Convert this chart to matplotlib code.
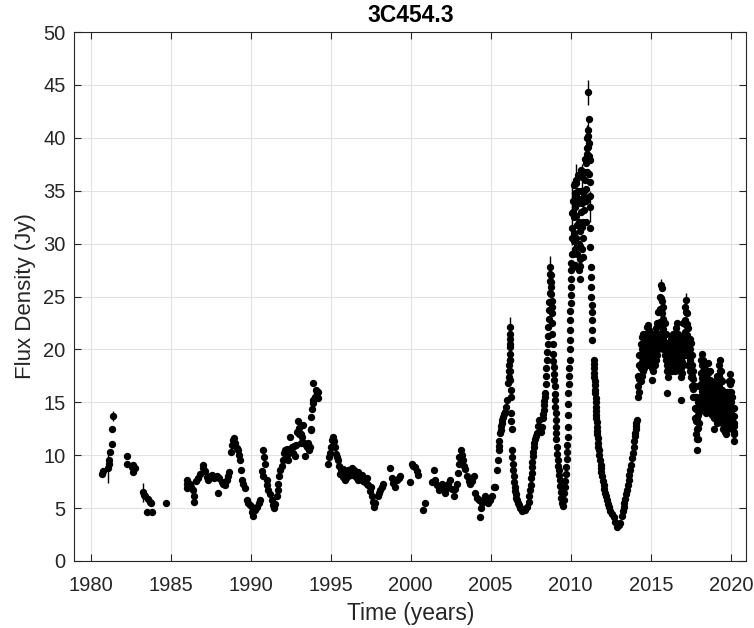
import numpy as np
import matplotlib.pyplot as plt

plt.rcParams['font.family'] = ['Liberation Sans', 'DejaVu Sans']

# --- данные (год, поток в Ян) ---
t_80s = [1980.70, 1980.75, 1981.11, 1981.15, 1981.18, 1981.22, 1981.32, 1981.32, 1981.43,
         1982.26, 1982.30, 1982.60, 1982.68, 1982.68, 1982.76,
         1983.30, 1983.35, 1983.41, 1983.51, 1983.61, 1983.72, 1983.78, 1983.82, 1984.70,
         1986.01, 1986.01, 1986.05, 1986.22, 1986.30, 1986.43, 1986.49, 1986.49, 1986.60,
         1986.74, 1986.85, 1987.05, 1987.05, 1987.15, 1987.30, 1987.36, 1987.45, 1987.57,
         1987.70, 1987.89, 1987.95, 1988.05, 1988.20, 1988.30, 1988.41, 1988.51, 1988.58,
         1988.66, 1988.75, 1988.82, 1988.90, 1988.99, 1989.05, 1989.14, 1989.24, 1989.30,
         1989.34, 1989.40, 1989.45, 1989.55, 1989.66, 1989.80, 1989.86, 1989.95, 1990.07,
         1990.10, 1990.18, 1990.25, 1990.39, 1990.50, 1990.59]
f_80s = [8.2, 8.5, 8.8, 9.2, 9.5, 10.3, 11.1, 12.5, 13.7,
         9.9, 9.2, 8.9, 9.1, 8.4, 8.8,
         6.5, 6.2, 6.1, 4.6, 5.9, 5.6, 5.5, 4.6, 5.5,
         7.7, 6.9, 7.3, 7.3, 7.0, 6.7, 6.1, 5.6, 7.6,
         7.8, 8.2, 8.8, 9.1, 8.5, 7.9, 7.7, 8.0, 8.1,
         7.8, 8.0, 6.4, 7.8, 7.5, 7.3, 7.2, 7.7, 8.0,
         8.4, 10.3, 11.0, 11.4, 11.6, 11.2, 10.7, 10.5, 10.0,
         9.5, 8.6, 7.7, 7.3, 6.9, 5.8, 5.5, 5.3, 5.1,
         4.6, 4.3, 4.8, 5.1, 5.5, 5.8]

t_90s = [1990.70, 1990.80, 1990.85, 1990.91, 1990.80, 1991.01, 1991.05, 1991.11, 1991.20,
         1991.32, 1991.40, 1991.49, 1991.55, 1991.64, 1991.70, 1991.74, 1991.80, 1991.84,
         1991.95, 1992.05, 1992.16, 1992.25, 1992.36, 1992.40, 1992.47, 1992.57, 1992.65,
         1992.78, 1992.85, 1992.92, 1992.99, 1993.05, 1993.12, 1993.20, 1993.30, 1993.35,
         1993.41, 1993.51, 1993.60, 1993.72, 1993.76, 1993.78, 1993.80, 1993.82, 1993.88,
         1993.93, 1993.93, 1994.00, 1994.08, 1994.14, 1994.24, 1994.20,
         1994.86, 1994.90, 1994.97, 1995.05, 1995.10, 1995.18, 1995.22, 1995.28, 1995.35,
         1995.42, 1995.49, 1995.55, 1995.62, 1995.70, 1995.80, 1995.91, 1996.00, 1996.11,
         1996.20, 1996.32, 1996.42, 1996.53, 1996.62, 1996.74, 1996.85, 1996.95, 1997.05,
         1997.16, 1997.25, 1997.36, 1997.45, 1997.57, 1997.65, 1997.72, 1997.80, 1997.93,
         1998.00, 1998.09, 1998.18, 1998.26, 1998.72, 1998.82, 1998.90, 1999.03, 1999.14,
         1999.25, 1999.34, 1999.97, 2000.07, 2000.15, 2000.28, 2000.40, 2000.49, 2000.80,
         2000.91, 2001.32, 2001.43, 2001.53, 2001.62, 2001.74, 2001.85, 2001.95, 2002.05,
         2002.16, 2002.25, 2002.36, 2002.47, 2002.58, 2002.68, 2002.80, 2002.89, 2002.97,
         2003.05, 2003.10, 2003.16, 2003.22, 2003.30, 2003.40, 2003.51, 2003.62, 2003.72,
         2003.82, 2003.93, 2004.03, 2004.12, 2004.24, 2004.34, 2004.40, 2004.45, 2004.55,
         2004.66, 2004.76, 2004.86, 2004.95, 2005.07, 2005.18, 2005.28,
         1992.10, 1992.30, 1992.70, 1993.00, 1993.15, 1993.45, 1993.65, 1995.60, 1995.75,
         1996.05, 1996.25, 1996.48, 1996.68, 1997.00, 1997.30, 1997.50, 2003.00, 2003.35]
f_90s = [8.5, 10.5, 9.8, 9.2, 8.0, 7.7, 7.2, 6.7, 6.3,
         5.8, 5.3, 5.0, 5.4, 6.1, 6.7, 7.3, 8.0, 8.6,
         9.0, 9.5, 10.5, 10.0, 9.5, 10.5, 11.7, 10.8, 10.2,
         9.9, 11.0, 12.2, 13.2, 12.6, 12.0, 11.7, 12.9, 11.2,
         9.9, 10.8, 11.2, 10.8, 12.4, 12.5, 13.6, 14.4, 14.9,
         15.2, 16.8, 15.5, 16.2, 15.9, 16.0, 15.4,
         9.2, 9.8, 10.2, 10.8, 11.4, 11.7, 11.3, 10.8, 10.1,
         9.8, 9.5, 9.0, 8.6, 8.3, 7.9, 7.7, 8.2, 8.6,
         8.5, 8.8, 8.3, 8.0, 7.8, 7.7, 7.9, 8.1, 7.8,
         7.5, 7.3, 7.2, 6.6, 6.1, 5.6, 5.1, 5.5, 6.1,
         6.4, 6.7, 7.0, 7.3, 8.8, 7.8, 7.4, 7.0, 7.7,
         7.8, 8.0, 7.5, 9.2, 9.0, 8.9, 8.5, 8.1, 4.8,
         5.5, 7.5, 8.6, 7.7, 7.2, 6.7, 7.0, 7.3, 6.8,
         6.4, 6.9, 7.3, 7.7, 6.8, 6.1, 6.8, 7.3, 8.3,
         9.2, 9.8, 10.5, 10.0, 9.5, 8.7, 8.0, 7.6, 7.3,
         7.6, 8.0, 6.4, 6.0, 5.8, 4.2, 5.0, 5.5, 5.8,
         6.1, 5.8, 5.5, 5.8, 6.1, 7.0, 7.0,
         10.2, 10.6, 10.9, 12.0, 11.2, 11.0, 10.5, 8.2, 8.7,
         7.9, 8.1, 8.6, 8.4, 7.6, 7.8, 7.0, 9.8, 9.0]

t_flares = [2005.39, 2005.45, 2005.49, 2005.55, 2005.59, 2005.65, 2005.70, 2005.75, 2005.82,
            2005.91, 2005.98, 2006.05, 2006.11, 2006.14, 2006.18, 2006.18, 2006.18, 2006.18,
            2006.20, 2006.22, 2006.22, 2006.24, 2006.26, 2006.32, 2006.33, 2006.38, 2006.43,
            2006.50, 2006.57, 2006.64, 2006.75, 2006.85, 2006.95, 2007.05, 2007.15, 2007.26,
            2007.38, 2007.47, 2007.52, 2007.57, 2007.62, 2007.68, 2007.78, 2007.89, 2007.94,
            2007.99, 2008.05, 2008.12, 2008.20, 2008.25, 2008.30, 2008.36, 2008.41, 2008.46,
            2008.51, 2008.56, 2008.61, 2008.65, 2008.68, 2008.70, 2008.72, 2008.75, 2008.78,
            2008.80, 2008.82, 2008.86, 2008.89, 2008.93, 2008.97, 2009.00, 2009.03, 2009.06,
            2009.09, 2009.13, 2009.18, 2009.24, 2009.30, 2009.38, 2009.45, 2009.52, 2009.59,
            2009.66, 2009.72, 2009.76, 2009.80, 2009.83, 2009.86, 2009.90, 2009.93, 2009.95,
            2009.97, 2009.99, 2010.01, 2010.03, 2010.05, 2010.07, 2010.07,
            2010.10, 2010.12, 2010.14, 2010.16, 2010.18, 2010.20, 2010.22, 2010.24, 2010.26,
            2010.28, 2010.30, 2010.32, 2010.34, 2010.36, 2010.38, 2010.40, 2010.43, 2010.45,
            2010.47, 2010.49, 2010.51, 2010.53, 2010.55, 2010.55, 2010.58, 2010.60, 2010.62,
            2010.64, 2010.67, 2010.70, 2010.70, 2010.72, 2010.74, 2010.77, 2010.80, 2010.82,
            2010.85, 2010.88, 2010.91, 2010.93, 2010.95, 2010.97, 2010.99, 2011.01, 2011.03,
            2011.05, 2011.07, 2011.09, 2011.11, 2011.13, 2011.15, 2011.18, 2011.18, 2011.20,
            2011.22, 2011.22, 2011.22, 2011.25, 2011.28, 2011.30, 2011.32, 2011.32,
            2011.43, 2011.45, 2011.48, 2011.50, 2011.53, 2011.56, 2011.58, 2011.61, 2011.64,
            2011.67, 2011.70, 2011.74, 2011.84, 2011.90, 2011.95, 2012.05, 2012.16, 2012.25,
            2012.36, 2012.48, 2012.58, 2012.68, 2012.78, 2012.89, 2013.00, 2013.09, 2013.20,
            2013.30, 2013.40, 2013.51, 2013.62, 2013.72, 2013.82, 2013.93, 2014.00, 2014.05,
            2014.09, 2014.12,
            2010.12, 2010.18, 2010.26, 2010.34, 2010.42, 2010.50, 2010.60, 2010.68, 2010.78,
            2010.86, 2010.95, 2011.03, 2011.12, 2011.16]
f_flares = [8.6, 9.5, 10.5, 11.3, 12.1, 12.8, 13.3, 13.6, 13.9,
            14.1, 14.6, 15.2, 16.8, 18.0, 19.0, 20.2, 21.5, 22.1,
            20.5, 19.0, 17.1, 16.2, 15.5, 12.5, 10.5, 9.2, 8.0,
            7.0, 6.3, 5.8, 5.3, 5.0, 4.7, 4.9, 4.8, 5.1,
            5.6, 6.7, 7.8, 8.9, 9.9, 10.8, 11.5, 12.1, 12.8,
            13.3, 12.6, 12.2, 12.7, 13.5, 14.3, 15.1, 15.9, 17.5,
            19.0, 20.5, 22.1, 23.7, 25.3, 26.5, 27.8, 27.0, 25.9,
            24.6, 23.4, 21.5, 19.6, 18.3, 17.1, 15.8, 14.6, 13.3,
            12.1, 10.8, 9.5, 8.6, 7.7, 6.5, 5.5, 5.2, 6.4,
            7.6, 8.9, 10.3, 11.7, 13.8, 15.9, 17.5, 19.0, 20.9,
            22.8, 24.4, 25.9, 27.5, 29.0, 30.5, 32.9,
            31.5, 29.0, 27.8, 34.0, 35.5, 32.5, 31.0, 29.5, 28.0,
            33.5, 36.0, 34.5, 35.7, 30.5, 29.0, 31.8, 33.8, 36.5,
            35.0, 32.0, 30.0, 27.5, 26.7, 28.5, 29.8, 31.2, 33.0,
            35.0, 37.0, 36.3, 31.6, 29.5, 28.7, 32.0, 33.2, 35.0,
            36.8, 38.0, 36.0, 34.0, 32.0, 37.6, 39.0, 40.0, 38.5,
            39.1, 40.2, 44.3, 40.7, 39.5, 38.3, 37.9, 35.8, 34.5,
            33.5, 31.5, 29.7, 27.8, 25.9, 24.2, 22.8, 20.9,
            19.0, 18.2, 17.4, 16.6, 15.9, 15.0, 14.2, 13.5, 12.7,
            12.0, 11.2, 10.5, 9.5, 8.8, 8.0, 7.2, 6.4, 5.8,
            5.1, 4.7, 4.4, 4.2, 3.7, 3.2, 3.4, 3.6, 4.3,
            5.1, 5.9, 6.7, 7.7, 8.6, 9.7, 10.8, 11.8, 12.5,
            13.0, 13.3,
            33.0, 30.2, 34.8, 32.6, 30.0, 34.2, 27.9, 33.8, 30.5,
            34.5, 35.2, 36.8, 41.8, 36.6]

# дополнительные точки на крутых склонах вспышек
t_flank = [2005.52, 2005.62, 2005.68, 2006.12, 2006.16, 2006.19, 2006.21, 2006.23, 2006.28,
           2006.30, 2006.35, 2006.40, 2006.46, 2006.54, 2006.60, 2006.70,
           2007.42, 2007.50, 2007.55, 2007.60, 2007.65, 2007.73, 2007.84,
           2008.28, 2008.33, 2008.39, 2008.44, 2008.48, 2008.54, 2008.58, 2008.63, 2008.67,
           2008.71, 2008.76, 2008.79, 2008.81, 2008.84, 2008.88, 2008.91, 2008.95, 2008.99,
           2009.02, 2009.05, 2009.08, 2009.11, 2009.15, 2009.21, 2009.27, 2009.34, 2009.42,
           2009.56, 2009.63, 2009.69, 2009.74, 2009.78, 2009.82, 2009.85, 2009.88, 2009.92,
           2009.94, 2009.96, 2009.98, 2010.00, 2010.02, 2010.04,
           2011.27, 2011.29, 2011.31, 2011.33,
           2011.44, 2011.47, 2011.49, 2011.52, 2011.55, 2011.57, 2011.60, 2011.62, 2011.66,
           2011.69, 2011.72, 2011.78, 2011.87, 2011.92, 2012.00, 2012.10, 2012.20, 2012.30,
           2013.25, 2013.35, 2013.45, 2013.56, 2013.67, 2013.77, 2013.88, 2013.97, 2014.03,
           2014.07]
f_flank = [10.9, 12.4, 13.0, 17.4, 18.5, 19.6, 21.0, 18.0, 14.0,
           13.2, 9.8, 8.6, 7.5, 6.6, 6.0, 5.5,
           6.1, 7.2, 8.3, 9.4, 10.3, 11.2, 11.8,
           13.9, 14.7, 15.5, 16.7, 18.2, 19.8, 21.3, 22.9, 24.5,
           27.1, 26.4, 25.2, 24.0, 22.5, 20.5, 18.9, 17.7, 16.5,
           15.2, 14.0, 12.7, 11.5, 10.1, 9.0, 8.1, 7.1, 6.0,
           5.8, 7.0, 8.2, 9.6, 11.0, 12.7, 14.8, 16.7, 18.2,
           20.0, 21.8, 23.6, 25.1, 26.7, 28.2,
           26.8, 25.0, 23.5, 21.8,
           18.6, 17.8, 17.0, 16.2, 15.4, 14.6, 13.8, 13.1, 12.3,
           11.6, 10.8, 10.0, 9.1, 8.4, 7.6, 6.8, 6.1, 5.4,
           4.7, 5.5, 6.3, 7.2, 8.1, 9.1, 10.2, 11.3, 12.1,
           12.8]

# плотный блок 2014-2020: для каждого момента времени - значения потока в колонке
t_block = [2014.20, 2014.28, 2014.36, 2014.44, 2014.52, 2014.60, 2014.68, 2014.76, 2014.84,
           2014.92, 2015.00, 2015.08, 2015.16, 2015.24, 2015.32, 2015.40, 2015.48, 2015.56,
           2015.64, 2015.70, 2015.78, 2015.86, 2015.94, 2016.02, 2016.10, 2016.18, 2016.26,
           2016.34, 2016.42, 2016.50, 2016.58, 2016.64, 2016.72, 2016.80, 2016.88, 2016.96,
           2017.04, 2017.12, 2017.18, 2017.26, 2017.34, 2017.42, 2017.50, 2017.58, 2017.66,
           2017.74, 2017.82, 2017.90, 2017.96, 2018.04, 2018.12, 2018.20, 2018.28, 2018.36,
           2018.44, 2018.52, 2018.60, 2018.68, 2018.76, 2018.84, 2018.92, 2019.00, 2019.08,
           2019.16, 2019.24, 2019.30, 2019.38, 2019.46, 2019.54, 2019.62, 2019.70, 2019.78,
           2019.86, 2019.94, 2020.02, 2020.10, 2020.18, 2020.22]
f_block = [[17.5, 16.5, 15.5], [19.5, 18.5, 17.2, 16.0], [20.5, 19.4, 18.2, 17.0],
           [21.2, 20.0, 18.8, 17.5], [21.5, 20.3, 19.1, 18.0], [21.0, 19.9, 18.8, 18.2],
           [21.5, 20.4, 19.4, 18.5], [22.1, 21.0, 20.0, 19.0], [22.3, 21.2, 20.1, 19.0],
           [21.8, 20.7, 19.6, 18.5], [21.2, 20.2, 19.3, 18.5], [21.5, 20.4, 19.3, 18.2, 17.1],
           [21.0, 20.0, 19.0, 18.0], [21.5, 20.5, 19.5, 18.5], [22.0, 21.0, 20.0, 19.0],
           [22.5, 21.5, 20.5, 19.5], [23.5, 22.3, 21.1, 20.0], [25.0, 23.8, 22.6, 21.5, 20.5],
           [26.1, 24.9, 23.7, 22.5, 21.0], [25.8, 24.6, 23.4, 22.4, 21.5], [24.0, 22.9, 21.9, 21.0, 20.0],
           [22.5, 21.5, 20.5, 19.5], [21.5, 20.6, 19.8, 19.0], [20.5, 19.5, 18.5, 18.0, 15.9],
           [20.0, 19.1, 18.2, 17.4], [20.5, 19.6, 18.8, 18.0], [21.0, 20.1, 19.3, 18.5],
           [21.2, 20.1, 19.0, 18.0], [21.5, 20.5, 19.5, 18.5], [21.0, 20.0, 19.0, 18.0],
           [22.0, 20.8, 19.6, 18.5], [22.5, 21.3, 20.1, 19.0], [21.5, 20.5, 19.5, 18.5],
           [20.5, 19.7, 18.8, 18.0], [20.0, 19.1, 18.2, 17.4, 15.2], [21.0, 19.9, 18.8, 17.8],
           [22.5, 21.2, 19.8, 18.5], [24.0, 22.8, 21.6, 20.5, 19.5], [24.7, 23.5, 22.3, 21.1, 20.0],
           [23.4, 22.4, 21.4, 20.4, 19.5], [22.0, 20.8, 19.6, 18.5], [21.0, 20.0, 19.0, 18.0],
           [20.6, 19.5, 18.4, 17.4], [19.5, 18.5, 17.5, 16.5], [18.0, 17.2, 16.3, 15.5],
           [16.5, 15.5, 14.5, 13.5], [15.5, 14.4, 13.2, 12.0], [14.5, 13.5, 12.5, 11.5, 10.5],
           [15.0, 13.8, 12.6, 11.5], [16.5, 15.3, 14.1, 13.0], [19.0, 17.8, 16.7, 15.6, 14.5],
           [19.6, 18.5, 17.3, 16.1, 15.0], [19.0, 18.0, 17.0, 16.0, 15.0], [18.5, 17.5, 16.5, 15.5, 14.5],
           [17.5, 16.7, 15.8, 14.9, 14.0], [18.0, 17.1, 16.2, 15.3, 14.5], [18.7, 17.8, 16.8, 15.9, 15.0],
           [18.0, 17.1, 16.2, 15.3, 14.5], [17.0, 16.0, 15.0, 14.0], [16.5, 15.6, 14.7, 13.8],
           [16.0, 15.2, 14.3, 13.5, 12.5], [16.5, 15.7, 14.8, 14.0], [17.0, 16.1, 15.2, 14.3, 13.5],
           [17.5, 16.6, 15.7, 14.8, 13.9, 13.0], [18.5, 17.5, 16.5, 15.5, 14.5, 13.5],
           [19.0, 18.0, 17.0, 16.0, 15.0, 14.0], [18.0, 17.1, 16.2, 15.3, 14.4, 13.5],
           [17.0, 16.2, 15.4, 14.6, 13.8, 13.0], [16.0, 15.1, 14.2, 13.4, 12.5],
           [15.5, 14.7, 13.9, 13.0, 12.2], [15.0, 14.2, 13.5, 12.7, 12.0],
           [16.0, 15.1, 14.2, 13.4, 12.5], [17.0, 16.0, 15.0, 14.0, 13.0],
           [17.7, 16.7, 15.6, 14.5, 13.5], [17.0, 16.0, 15.0, 14.0, 13.0],
           [15.5, 14.5, 13.5, 12.5], [14.5, 13.7, 12.8, 12.0], [13.0, 12.2, 11.3]]

# заметные планки погрешностей: год, поток, полуширина
err_t = [1981.11, 1981.43, 1983.30, 2006.18, 2008.72, 2010.07, 2010.30, 2010.70,
         2011.01, 2011.07, 2011.09, 2011.22, 2015.64, 2017.18]
err_f = [8.8, 13.7, 6.5, 22.1, 27.8, 32.9, 36.0, 36.3,
         40.0, 40.2, 44.3, 33.5, 26.1, 24.7]
err_e = [1.4, 0.5, 0.9, 1.0, 1.0, 3.0, 1.5, 1.2,
         1.2, 1.5, 1.2, 1.5, 0.6, 0.6]

# сборка
t_all = t_80s + t_90s + t_flares + t_flank
f_all = f_80s + f_90s + f_flares + f_flank
for t, col in zip(t_block, f_block):
    t_all += [t] * len(col)
    f_all += col
t_all = np.array(t_all)
f_all = np.array(f_all)

fig = plt.figure(figsize=(7.54, 6.28), dpi=100)
ax = fig.add_axes([0.0988, 0.1067, 0.8906, 0.8423])

ax.errorbar(err_t, err_f, yerr=err_e, fmt='none', ecolor='k', elinewidth=1.0, capsize=0, zorder=3)
ax.plot(t_all, f_all, 'o', color='k', markersize=5.3, markeredgewidth=0, zorder=4)

ax.set_xlim(1979.0, 2020.95)
ax.set_ylim(0, 50)
ax.set_xticks(np.arange(1980, 2021, 5))
ax.set_yticks(np.arange(0, 51, 5))
ax.grid(True, color='#e2e2e2', linewidth=0.8)
ax.set_axisbelow(True)

dark = '#262626'
for s in ax.spines.values():
    s.set_color(dark)
    s.set_linewidth(0.8)
ax.tick_params(direction='in', length=5, width=0.8, colors=dark, labelsize=14.5,
               top=True, right=True)
ax.tick_params(axis='x', pad=10.5)
ax.tick_params(axis='y', pad=6.5)

ax.set_xlabel('Time (years)', fontsize=16.5, color=dark, labelpad=5)
ax.set_ylabel('Flux Density (Jy)', fontsize=16, color=dark, labelpad=5)
ax.set_title('3C454.3', fontsize=16.5, fontweight='bold', color='k', pad=7.5)

fig.savefig('out.png', dpi=100)
